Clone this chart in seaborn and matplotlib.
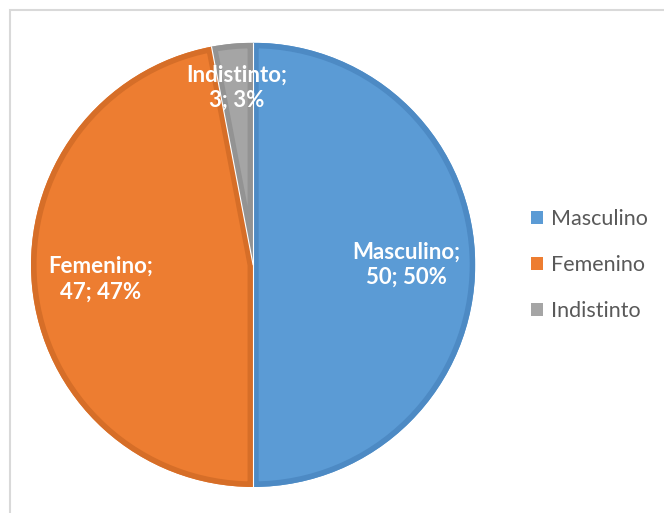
import numpy as np
import matplotlib
matplotlib.use("Agg")
import matplotlib.pyplot as plt
import seaborn as sns
from matplotlib.patches import Rectangle, Wedge

# datos
categorias = ["Masculino", "Femenino", "Indistinto"]
valores = [50, 47, 3]
colores = ["#5B9BD5", "#ED7D31", "#A5A5A5"]
bordes = ["#4D8AC4", "#D66E28", "#939393"]
dist_etiquetas = [0.69, 0.69, 0.80]

sns.set_theme(style="white")
plt.rcParams["font.family"] = ["Lato", "DejaVu Sans"]

fig = plt.figure(figsize=(6.64, 5.13), dpi=100)
ax = fig.add_axes([0.0467, 0.0507, 0.669, 0.866])

wedges, _ = ax.pie(valores, colors=colores, startangle=90, counterclock=False,
                   radius=1.0, wedgeprops=dict(linewidth=0))

# borde interior más oscuro (efecto bisel de Excel), recortado a cada porción
for w, b in zip(wedges, bordes):
    borde = Wedge(w.center, w.r, w.theta1, w.theta2, fill=False,
                  edgecolor=b, linewidth=8)
    ax.add_patch(borde)
    borde.set_clip_path(w)

# líneas finas blancas entre porciones (solo radios)
for w in wedges:
    ang = np.deg2rad(w.theta1)
    ax.plot([0, np.cos(ang)], [0, np.sin(ang)], color="white", lw=0.8)

total = sum(valores)
for w, cat, val, d in zip(wedges, categorias, valores, dist_etiquetas):
    ang = np.deg2rad((w.theta1 + w.theta2) / 2)
    x, y = d * np.cos(ang), d * np.sin(ang)
    ax.text(x, y, f"{cat};\n{val}; {val / total:.0%}", ha="center", va="center",
            color="white", fontsize=16, fontweight="bold", linespacing=1.25)

ax.set_xlim(-1.0, 1.0)
ax.set_ylim(-1.0, 1.0)
ax.set_aspect("equal")
ax.axis("off")

leg = fig.legend(wedges, categorias, loc="center left", bbox_to_anchor=(0.8, 0.483),
                 frameon=False, fontsize=15.5, handlelength=0.55, handleheight=0.55,
                 handletextpad=0.35, labelspacing=1.22, borderpad=0, borderaxespad=0)
for t in leg.get_texts():
    t.set_color("#595959")
for h in leg.legend_handles:
    h.set_linewidth(0)

fig.patches.append(Rectangle((10 / 664, -0.1), 1.2, 1.1 - 10 / 513,
                             transform=fig.transFigure, fill=False,
                             edgecolor="#D9D9D9", linewidth=1.5))

fig.savefig("out.png", dpi=100, facecolor="white")
